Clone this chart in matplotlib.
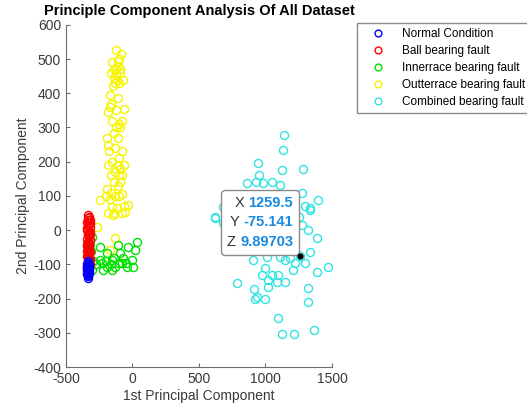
import matplotlib
matplotlib.use("Agg")
import matplotlib.pyplot as plt
from matplotlib.offsetbox import TextArea, HPacker, VPacker, AnnotationBbox

plt.rcParams['font.family'] = ['Liberation Sans', 'DejaVu Sans']
plt.rcParams['axes.unicode_minus'] = False

# scores on the first two principal components
normal_x = [-335, -330, -340, -325, -338, -332, -328, -342, -336, -330, -326,
            -334, -340, -332, -338, -328, -336, -330, -334, -342, -326, -332]
normal_y = [-90, -95, -100, -105, -110, -115, -120, -125, -130, -135, -112,
            -118, -108, -122, -128, -102, -98, -126, -132, -115, -125, -140]

ball_x = [-330, -335, -325, -340, -320, -332, -328, -345, -315, -338, -322,
          -330, -336, -326, -342, -318, -334, -328, -340, -324, -330, -338,
          -320, -332, -344, -326, -316, -336, -330, -322, -340, -328, -334,
          -318, -330, -342, -326, -336, -320, -332]
ball_y = [45, 35, 40, 25, 30, 15, 20, 5, 10, 0, -5, -10, -15, -20, -25, -30,
          -35, -40, -45, -50, -55, -60, -65, -70, -75, -80, -85, -90, -95,
          -100, -105, -110, 30, 20, -2, -40, -62, -78, -12, -48]

inner_x = [-244, -107, -32, 32, 19, -194, -94, -156, -69, -244, -194, -132,
           -81, -6, 6, -44, -219, -156, -320, -310, -300, -330, -315, -295,
           -325, -305, -335, -160, -100, -230, -270, -200, -140, -50]
inner_y = [-48, -43, -48, -34, -58, -68, -68, -87, -82, -87, -107, -107, -97,
           -87, -107, -107, -116, -116, -40, -60, -20, -80, -100, -90, -10,
           -115, -55, -100, -95, -95, -100, -90, -80, -95]

outer_x = [-120, -85, -150, -100, -135, -110, -160, -125, -95, -140, -115,
           -70, -130, -100, -145, -120, -105, -90,
           -170, -160, -180, -165, -150, -110, -120, -60, -80, -90, -120,
           -100, -140, -110,
           -190, -180, -175, -130, -80, -100, -150, -185, -110, -90, -130,
           -160, -60, -100, -80, -140, -110, -90, -190, -160, -200, -130,
           -100, -80, -170, -115, -145, -140, -80, -60,
           -244, -154, -184, -34, -56, -267, -132, -169]
outer_y = [525, 515, 490, 500, 470, 480, 460, 455, 460, 445, 440, 440, 430,
           430, 420, 470, 495, 470,
           395, 370, 345, 360, 320, 385, 350, 355, 320, 300, 300, 310, 285,
           270,
           270, 250, 230, 240, 230, 210, 200, 190, 190, 180, 170, 160, 190,
           160, 160, 140, 130, 140, 120, 110, 100, 100, 100, 105, 90, 65, 45,
           50, 50, 70,
           88, 68, 50, 74, 53, 10, -23, -58]

comb_x = [1141, 1134, 946, 1126, 1284, 954, 858, 929, 984, 1046, 1109, 1271,
          1392, 1297, 1334, 683, 620, 620, 683, 1334, 1322, 1385, 1271, 1334,
          1109, 1147, 1184, 1222, 1297, 908, 1009, 996, 1209, 1385, 1467,
          971, 1046, 1096, 1021, 1084, 1147, 783, 916, 1016, 1322, 934, 996,
          921, 1317, 1091, 1126, 1216, 1367, 1259.5,
          850, 900, 950, 1000, 1050, 1100, 1150, 1200, 1250, 1200, 1100, 1000,
          900, 800, 1050]
comb_y = [278, 234, 196, 176, 178, 161, 137, 142, 137, 142, 132, 110, 88, 71,
          64, 67, 40, 35, 20, 59, 1, -24, 15, -63, -77, -87, -82, -97, -97,
          -87, -77, -111, -116, -121, -107, -131, -131, -131, -146, -150,
          -150, -153, -173, -167, -170, -196, -202, -202, -209, -255, -302,
          -302, -292, -75.141,
          0, -20, 30, -50, -30, -10, -40, 10, 40, -50, 60, 90, 70, 90, 70]

labels = ["Normal Condition", "Ball bearing fault", "Innerrace bearing fault",
          "Outterrace bearing fault", "Combined bearing fault"]
tip = ("1259.5", "-75.141", "9.89703")


def main():
    fig = plt.figure(figsize=(5.27, 4.13), dpi=100)
    ax = fig.add_axes([0.125, 0.111, 0.505, 0.829])

    series = [(normal_x, normal_y, 'b', 5), (ball_x, ball_y, 'r', 4),
              (inner_x, inner_y, '#00e000', 3), (outer_x, outer_y, '#f5f500', 2),
              (comb_x, comb_y, '#33e3e3', 2)]
    handles = []
    for (xs, ys, c, z), lab in zip(series, labels):
        h, = ax.plot(xs, ys, 'o', mfc='none', mec=c, ms=5.8, mew=1.0,
                     ls='none', label=lab, zorder=z)
        handles.append(h)

    ax.set_xlim(-500, 1500)
    ax.set_ylim(-400, 600)
    ax.set_xticks([-500, 0, 500, 1000, 1500])
    ax.set_yticks(range(-400, 601, 100))
    for s in ['top', 'right']:
        ax.spines[s].set_visible(False)
    for s in ['left', 'bottom']:
        ax.spines[s].set_color('#6e6e6e')
    ax.tick_params(direction='in', colors='#6e6e6e', labelcolor='#3a3a3a',
                   labelsize=10, length=3)
    ax.set_title("Principle Component Analysis Of All Dataset",
                  fontweight='bold', fontsize=10.5, pad=7)
    ax.set_xlabel("1st Principal Component", fontsize=10, color='#3a3a3a',
                  labelpad=2)
    ax.set_ylabel("2nd Principal Component", fontsize=10, color='#3a3a3a',
                  labelpad=2)

    leg = fig.legend(handles=handles, loc='upper left',
                     bbox_to_anchor=(357 / 527, 1 - 23 / 413), fontsize=8.5,
                     frameon=True, fancybox=False, edgecolor='#6e6e6e',
                     borderpad=0.45, borderaxespad=0, handletextpad=0.8,
                     labelspacing=0.42, handlelength=2.6, markerscale=0.85)
    leg.get_frame().set_linewidth(1.0)

    # data tip
    rows = []
    for name, val in zip("XYZ", tip):
        rows.append(HPacker(children=[
            TextArea(name, textprops=dict(color='#333333', fontsize=10.5)),
            TextArea(val, textprops=dict(color='#1a8ae0', fontsize=10.5,
                                         fontweight='bold'))],
            align='baseline', pad=0, sep=3))
    box = VPacker(children=rows, align='right', pad=0, sep=4)
    ab = AnnotationBbox(box, (1259.5, -75.141), xybox=(-5, 5),
                        xycoords='data', boxcoords='offset points',
                        box_alignment=(1, 0), frameon=True, pad=0.45,
                        zorder=10,
                        bboxprops=dict(boxstyle='round,pad=0.45,rounding_size=0.3',
                                       fc='white', ec='#8a8a8a', lw=1.0))
    ax.add_artist(ab)
    ax.plot([1259.5], [-75.141], 'o', color='black', ms=3.5, zorder=11)

    fig.savefig("out.png", dpi=100)


if __name__ == "__main__":
    main()
